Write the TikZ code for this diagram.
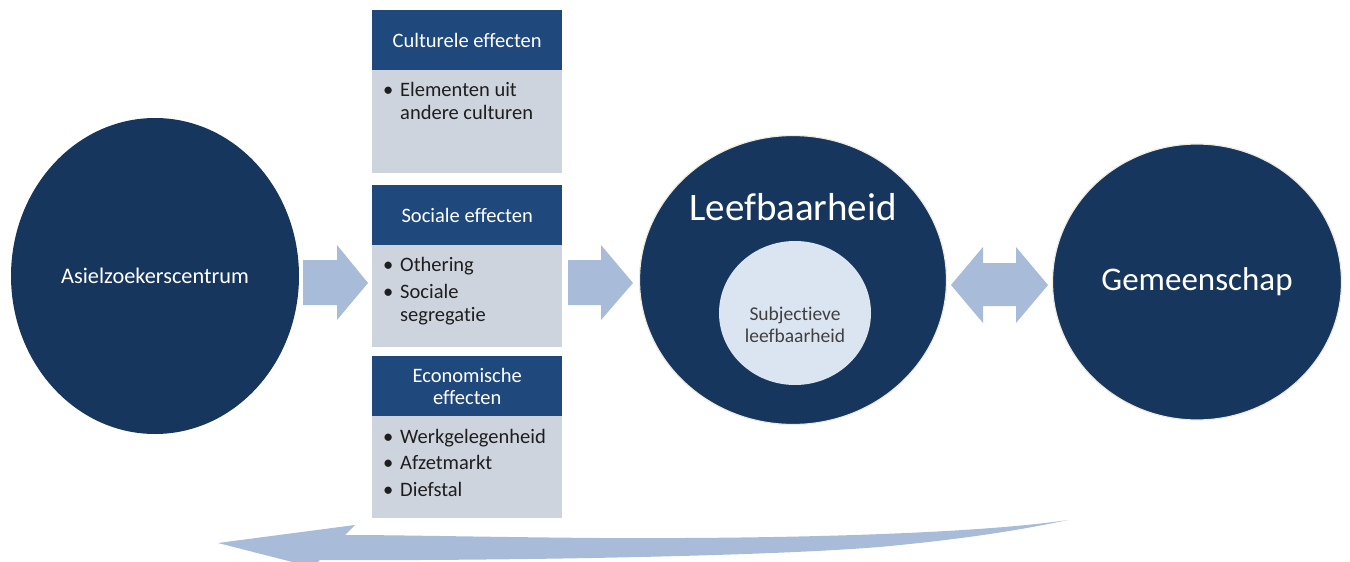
\documentclass[tikz,border=0pt]{standalone}
\usepackage{fontspec}
\setmainfont{Carlito}[Ligatures=NoCommon]
\usetikzlibrary{shapes.geometric}
\definecolor{navy}{RGB}{23,54,93}
\definecolor{hdr}{RGB}{31,73,125}
\definecolor{bodygrey}{RGB}{206,212,222}
\definecolor{arrowblue}{RGB}{168,187,216}
\definecolor{innerblue}{RGB}{219,229,241}
\definecolor{cream}{RGB}{238,236,225}
\definecolor{txt}{RGB}{30,30,30}
\tikzset{
  bigcirc/.style={ellipse, fill=navy, inner sep=0pt, text=white},
  hdrbox/.style={rectangle, fill=hdr, minimum width=190pt, minimum height=60pt, inner sep=0pt, text=white, align=center, font=\fontsize{20.5}{22}\selectfont},
  bodybox/.style={rectangle, fill=bodygrey, minimum width=190pt, inner sep=0pt},
  bodytext/.style={anchor=base west, inner sep=0pt, text=txt, font=\fontsize{20.5}{23}\selectfont},
  blockarrow/.style={fill=arrowblue, draw=none}
}
\newcommand{\bul}{\textbullet}
\begin{document}
\begin{tikzpicture}[x=1pt,y=-1pt]
\useasboundingbox (0,0) rectangle (1350,562);
\clip (0,0) rectangle (1350,562);
% circles
\node[bigcirc, minimum width=288pt, minimum height=316pt, font=\fontsize{22.3}{26}\selectfont] (azc) at (155,276) {Asielzoekerscentrum};
\node[bigcirc, draw=cream, line width=1.2pt, minimum width=307pt, minimum height=289pt] (leef) at (793,280) {};
\node[anchor=base, text=white, inner sep=0pt, font=\fontsize{39}{40}\selectfont] (leeft) at (793,220) {Leefbaarheid};
\node[ellipse, fill=innerblue, inner sep=0pt, minimum width=152pt, minimum height=144pt] (subj) at (795,313) {};
\node[align=center, inner sep=0pt, text=txt!85, font=\fontsize{19.5}{22}\selectfont] (subjt) at (795,325) {Subjectieve\\leefbaarheid};
\node[bigcirc, draw=cream, line width=1.2pt, minimum width=289pt, minimum height=276pt, font=\fontsize{33}{36}\selectfont] (gem) at (1197,282) {Gemeenschap};
% boxes
\node[hdrbox, anchor=north west] (h1) at (372,10) {Culturele effecten};
\node[bodybox, anchor=north west, minimum height=103pt] (b1) at (372,70) {};
\node[hdrbox, anchor=north west] (h2) at (372,185) {Sociale effecten};
\node[bodybox, anchor=north west, minimum height=102pt] (b2) at (372,245) {};
\node[hdrbox, anchor=north west] (h3) at (372,356) {Economische\\effecten};
\node[bodybox, anchor=north west, minimum height=102pt] (b3) at (372,416) {};
\node[bodytext] (t1) at (383,96) {\begin{tabular}[t]{@{}p{17pt}@{}l@{}}\bul & Elementen uit\\ & andere culturen\end{tabular}};
\node[bodytext] (t2) at (383,271) {\begin{tabular}[t]{@{}p{17pt}@{}l@{}}\bul & Othering\\[4pt] \bul & Sociale\\ & segregatie\end{tabular}};
\node[bodytext] (t3) at (383,443) {\begin{tabular}[t]{@{}p{17pt}@{}l@{}}\bul & Werkgelegenheid\\[3.5pt] \bul & Afzetmarkt\\[3.5pt] \bul & Diefstal\end{tabular}};
% block arrows
\fill[blockarrow] (303,260) -- (337,260) -- (337,245) -- (368,283) -- (337,320) -- (337,305) -- (303,305) -- cycle;
\fill[blockarrow] (568,260) -- (601,260) -- (601,245) -- (633,283) -- (601,320) -- (601,305) -- (568,305) -- cycle;
\fill[blockarrow] (951,285) -- (983,247) -- (983,263) -- (1016,263) -- (1016,247) -- (1048,285) -- (1016,323) -- (1016,306) -- (983,306) -- (983,323) -- cycle;
% curved return arrow
\fill[blockarrow] (1068,520) .. controls (980,533) and (800,539) .. (600,538)
  .. controls (480,537) and (400,535) .. (345,535) -- (355,525) -- (218,543) -- (312,567) -- (320,560)
  .. controls (500,561) and (800,556) .. (900,545)
  .. controls (980,537) and (1030,528) .. (1068,520) -- cycle;
\end{tikzpicture}
\end{document}
